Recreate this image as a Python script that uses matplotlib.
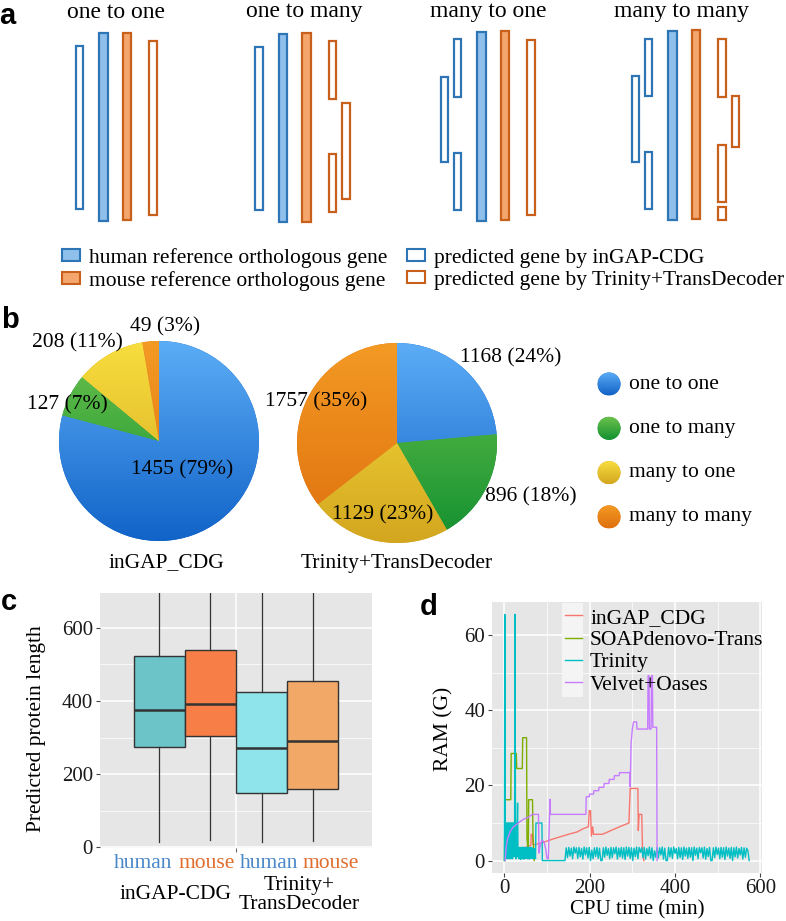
import matplotlib.pyplot as plt
import numpy as np
from matplotlib.colors import LinearSegmentedColormap
from matplotlib.patches import Circle, Patch, Rectangle

plt.rcParams["font.family"] = ["Liberation Serif", "DejaVu Serif"]

# ---------------- panel a: schematic gene models (segment top, bottom) ----
A_TITLES = ["one to one", "one to many", "many to one", "many to many"]
A_SEGMENTS = [
    {"pred_h": [(46, 209)], "ref_h": [(33, 221)], "ref_m": [(33, 220)],
     "pred_m": [(41, 215)]},
    {"pred_h": [(47, 210)], "ref_h": [(34, 222)], "ref_m": [(33, 222)],
     "pred_m": [(41, 99), (154, 212)], "pred_m2": [(103, 199)]},
    {"pred_h2": [(77, 162)], "pred_h": [(39, 97), (153, 210)],
     "ref_h": [(32, 221)], "ref_m": [(31, 220)], "pred_m": [(40, 215)]},
    {"pred_h2": [(76, 162)], "pred_h": [(39, 96), (152, 209)],
     "ref_h": [(31, 220)], "ref_m": [(30, 219)],
     "pred_m": [(39, 97), (145, 202), (207, 220)], "pred_m2": [(96, 147)]},
]
A_LEGEND = ["human reference orthologous gene",
            "mouse reference orthologous gene",
            "predicted gene by inGAP-CDG",
            "predicted gene by Trinity+TransDecoder"]

# ---------------- panel b: pies ----
B_CATEGORIES = ["one to one", "one to many", "many to one", "many to many"]
B_INGAP = [1455, 127, 208, 49]
B_INGAP_PCT = [79, 7, 11, 3]
B_TRINITY = [1168, 896, 1129, 1757]
B_TRINITY_PCT = [24, 18, 23, 35]
B_TITLES = ["inGAP_CDG", "Trinity+TransDecoder"]

# ---------------- panel c: boxplots ----
C_LABELS = ["human", "mouse", "human", "mouse"]
C_GROUPS = ["inGAP-CDG", "Trinity+\nTransDecoder"]
C_WHISLO = [14, 19, 14, 16]
C_Q1 = [275, 303, 147, 158]
C_MED = [376, 392, 272, 290]
C_Q3 = [523, 540, 425, 455]
C_WHISHI = [895, 895, 842, 900]

# ---------------- panel d: RAM over CPU time ----
D_INGAP_T = [28, 40, 55, 62, 63, 66, 67, 80, 95, 110, 130, 150, 170, 185,
             197, 199, 202, 204, 207, 209, 230, 250, 270, 292, 295, 313, 314,
             316, 322, 324, 327]
D_INGAP_RAM = [3.0, 3.0, 3.8, 4.0, 7.0, 7.0, 4.2, 4.5, 5.0, 5.6, 6.3, 7.0,
               7.6, 8.5, 9.0, 13.3, 13.3, 6.5, 9.0, 7.0, 7.0, 8.0, 9.0, 10.0,
               19.2, 19.2, 8.0, 12.3, 12.3, 2.5, 0.0]

D_SOAP_T = [0, 1, 2, 15, 16, 28, 29, 42, 43, 52, 53, 56, 57, 66, 67, 70]
D_SOAP_RAM = [0, 10, 16.2, 16.2, 28.5, 28.5, 24.5, 24.5, 32.7, 32.7, 6, 2,
              16.2, 16.2, 7, 0]

# Trinity sampled every minute from 0 to 89 min
D_TRINITY_EARLY = [
    0, 65.5, 10, 0.5, 10, 1, 10, 0.5, 10, 2, 10, 0.5, 10, 1, 10, 0.5, 10, 1.5,
    10, 0.5, 10, 2, 10, 1, 10, 65.5, 10, 0.5, 10, 1, 10, 15.3, 1, 3, 0.5, 3.5,
    1, 3.2, 0.3, 3.5, 1.2, 3.4, 0.5, 3.6, 1, 3.3, 0.4, 3.5, 1.5, 3.4, 0.6, 3.5,
    1, 3.2, 0.5, 3.6, 1.2, 3.4, 0.4, 3.5, 1, 3.3, 0.6, 3.5, 1, 3.4, 0.5, 3, 1,
    3.2, 0.5, 3, 1, 0.5, 10, 10, 10, 10, 10, 10, 10, 10, 10, 10, 10, 10, 10,
    10, 10, 0]
# Trinity sampled every 3 minutes from 142 to 574 min
D_TRINITY_LATE = [
    0,
    3.4, 0.8, 3.5, 1.2, 3.3, 0.5, 3.6, 2.0, 3.4, 0.6, 3.5, 1.0, 3.2, 0.4, 3.6,
    1.5, 3.4, 0.7, 3.5, 0.0, 2.8, 0.5, 3.4, 1.1,
    3.5, 0.6, 3.3, 0.0, 0.0, 3.4, 0.9, 3.6, 1.4, 3.2, 0.5, 3.5, 0.8, 3.4, 1.8,
    3.6, 0.4, 3.3, 1.0, 3.5, 0.7, 3.4, 0.3, 3.6,
    1.2, 3.5, 0.6, 3.4, 0.0, 3.3, 1.1, 3.6, 0.5, 3.5, 2.2, 3.4, 0.8, 3.5, 0.4,
    3.2, 1.3, 3.6, 0.6, 3.4, 0.0, 2.6, 0.9, 3.5,
    0.7, 3.4, 1.5, 3.6, 0.4, 3.3, 0.0, 0.0, 3.5, 1.0, 3.4, 0.6, 3.6, 1.9, 3.2,
    0.5, 3.5, 0.8, 3.4, 0.3, 3.6, 1.2, 3.3, 0.6,
    3.5, 0.9, 3.4, 0.0, 3.6, 1.4, 3.3, 0.5, 3.5, 2.1, 3.4, 0.7, 3.6, 0.4, 3.2,
    1.1, 3.5, 0.0, 0.0, 3.4, 0.8, 3.6, 1.6, 3.3,
    0.5, 3.5, 0.9, 3.4, 0.3, 3.6, 1.2, 3.3, 0.6, 3.5, 0.0, 3.4, 1.0, 3.6, 0.7,
    3.2, 1.5, 3.5, 0.4, 3.4, 0.9, 3.3, 2.6, 0.0]

D_VELVET_T = [2, 4, 8, 14, 20, 28, 36, 45, 55, 66, 80, 81, 84, 88, 93, 97,
              100, 103, 107, 108, 191, 192, 199, 200, 209, 210, 221, 222, 233,
              234, 245, 246, 257, 258, 269, 270, 294, 295, 297, 300, 303, 310,
              311, 336, 337, 339, 340, 344, 345, 347, 348, 357, 358]
D_VELVET_RAM = [0, 3.5, 6, 7.8, 8.8, 9.6, 10.3, 11, 11.5, 12.3, 12.3, 2, 4,
                5.5, 5, 3, 0.5, 0.5, 16.3, 12.3, 12.3, 17, 17, 17.7, 17.7,
                18.6, 18.6, 19.5, 19.5, 20.5, 20.5, 21.6, 21.6, 22.6, 22.6,
                23.4, 23.4, 19.6, 31, 35, 36.9, 36.9, 35, 35, 49.2, 49.2, 35,
                35, 49.2, 49.2, 35.5, 35.5, 0]
D_NAMES = ["inGAP_CDG", "SOAPdenovo-Trans", "Trinity", "Velvet+Oases"]

# ---------------- styles ----
W, H = 786, 921
BLUE_EDGE, BLUE_FILL = "#2e75b6", "#8fc0ec"
ORANGE_EDGE, ORANGE_FILL = "#c8601c", "#f4a66c"
PIE_SHADES = [("#5cadf6", "#1163c8"), ("#6cc24c", "#129030"),
              ("#f8de3e", "#d3a61f"), ("#f39a24", "#df700e")]
BOX_FILLS = ["#6cc3c8", "#f77f47", "#8fe3ea", "#f2a867"]
TICK_COLORS = ["#4a88c8", "#e06c2c", "#4a88c8", "#e06c2c"]
GG_COLORS = ["#f8766d", "#7cae00", "#00bfc4", "#c77cff"]
TXT = 15.5

fig = plt.figure(figsize=(W / 100, H / 100), dpi=100)


def px_axes(x0, y0, x1, y1, **kw):
    return fig.add_axes([x0 / W, 1 - y1 / H, (x1 - x0) / W, (y1 - y0) / H], **kw)


def gradient_fill(ax, patch, light, dark, extent):
    cmap = LinearSegmentedColormap.from_list("shade", [light, dark])
    grad = np.linspace(0, 1, 256).reshape(-1, 1)
    im = ax.imshow(grad, cmap=cmap, extent=extent, origin="upper",
                   aspect="auto", zorder=patch.get_zorder() + 0.1,
                   interpolation="bilinear")
    im.set_clip_path(patch)


# overlay in pixel coordinates for schematic, legends and letters
ov = fig.add_axes([0, 0, 1, 1])
ov.set_xlim(0, W)
ov.set_ylim(H, 0)
ov.axis("off")

# ---------------- panel a ----
GROUP_X = [103.5, 283, 481.5, 672.5]
TITLE_X = [116, 304, 488, 681]
LANES = {"pred_h2": (-37, "open", "h"), "pred_h": (-24, "open", "h"),
         "ref_h": (0, "fill", "h"), "ref_m": (23.5, "fill", "m"),
         "pred_m": (49.5, "open", "m"), "pred_m2": (63, "open", "m")}
for gx, tx, title, segs in zip(GROUP_X, TITLE_X, A_TITLES, A_SEGMENTS):
    ov.text(tx, 12, title, ha="center", va="center", fontsize=17)
    for key, spans in segs.items():
        off, kind, sp = LANES[key]
        edge = BLUE_EDGE if sp == "h" else ORANGE_EDGE
        face = (BLUE_FILL if sp == "h" else ORANGE_FILL) if kind == "fill" else "white"
        w = 8.5 if kind == "fill" else 7.5
        for top, bot in spans:
            ov.add_patch(Rectangle((gx + off - w / 2, top), w, bot - top,
                                   facecolor=face, edgecolor=edge, lw=1.6))

handles = [Patch(facecolor=BLUE_FILL, edgecolor=BLUE_EDGE, lw=1.5),
           Patch(facecolor=ORANGE_FILL, edgecolor=ORANGE_EDGE, lw=1.5),
           Patch(facecolor="white", edgecolor=BLUE_EDGE, lw=1.5),
           Patch(facecolor="white", edgecolor=ORANGE_EDGE, lw=1.5)]
ov.legend(handles, A_LEGEND, ncol=2, loc="upper left",
          bbox_to_anchor=(62 / W, 1 - 248 / H), bbox_transform=fig.transFigure,
          frameon=False, fontsize=TXT, handlelength=0.85, handleheight=0.45,
          handletextpad=0.4, columnspacing=0.9, labelspacing=0.13,
          borderpad=0, borderaxespad=0)

# ---------------- panel b ----
LEFT_LABEL_XY = [(0.23, -0.29), (-0.92, 0.36), (-0.82, 0.98), (0.06, 1.14)]
RIGHT_LABEL_XY = [(1.14, 0.85), (1.34, -0.54), (-0.14, -0.72), (-0.81, 0.41)]
pie_boxes = [(59, 341, 259, 541), (297, 343, 497, 543)]
for box, vals, pcts, label_xy in zip(pie_boxes, [B_INGAP, B_TRINITY],
                                     [B_INGAP_PCT, B_TRINITY_PCT],
                                     [LEFT_LABEL_XY, RIGHT_LABEL_XY]):
    ax = px_axes(*box)
    ax.patch.set_visible(False)
    wedges, _ = ax.pie(vals, startangle=90, counterclock=False,
                       colors=[s[1] for s in PIE_SHADES],
                       wedgeprops=dict(linewidth=0))
    for wdg, (light, dark) in zip(wedges, PIE_SHADES):
        gradient_fill(ax, wdg, light, dark, (-1, 1, -1, 1))
    for v, p, (lx, ly) in zip(vals, pcts, label_xy):
        ax.text(lx, ly, f"{v} ({p}%)", ha="center", va="center",
                fontsize=TXT, zorder=5, clip_on=False)
    ax.set_xlim(-1, 1)
    ax.set_ylim(-1, 1)
    ax.set_aspect("equal")
    ax.axis("off")

ov.text(166, 563, B_TITLES[0], ha="center", va="center", fontsize=TXT)
ov.text(397, 563, B_TITLES[1], ha="center", va="center", fontsize=TXT)

for i, (cat, (light, dark)) in enumerate(zip(B_CATEGORIES, PIE_SHADES)):
    cy = 384 + i * 44.3
    c = Circle((609, cy), 11.5, facecolor=dark, edgecolor="none")
    ov.add_patch(c)
    gradient_fill(ov, c, light, dark, (597.5, 620.5, cy + 11.5, cy - 11.5))
    ov.text(629, cy, cat, ha="left", va="center", fontsize=TXT)
ov.set_xlim(0, W)
ov.set_ylim(H, 0)


def style_gg(ax):
    ax.set_facecolor("#e6e6e6")
    for s in ax.spines.values():
        s.set_visible(False)
    ax.grid(which="major", color="white", linewidth=1.1)
    ax.grid(which="minor", color="white", linewidth=0.5)
    ax.set_axisbelow(True)
    ax.tick_params(which="major", length=3, width=0.8, color="#444444",
                   labelsize=15, pad=2, labelcolor="#1a1a1a")
    ax.tick_params(which="minor", length=0)


# ---------------- panel c ----
axc = px_axes(100, 593, 372, 848)
style_gg(axc)
pos = [1, 2, 3, 4]
LABEL_POS = [0.69, 1.93, 3.14, 4.35]
stats = [dict(whislo=lo, q1=a, med=m, q3=b, whishi=hi)
         for lo, a, m, b, hi in zip(C_WHISLO, C_Q1, C_MED, C_Q3, C_WHISHI)]
bp = axc.bxp(stats, positions=pos, widths=1.0, patch_artist=True,
             showfliers=False, showcaps=False,
             boxprops=dict(edgecolor="#333333", linewidth=1.0),
             medianprops=dict(color="#333333", linewidth=1.8),
             whiskerprops=dict(color="#333333", linewidth=0.9))
for patch, col in zip(bp["boxes"], BOX_FILLS):
    patch.set_facecolor(col)
axc.set_xlim(-0.16, 5.16)
axc.set_ylim(-2, 695)
axc.set_yticks([0, 200, 400, 600])
axc.set_yticks([100, 300, 500], minor=True)
axc.set_xticks(LABEL_POS, C_LABELS)
axc.set_xticks([2.5], minor=True)
axc.xaxis.grid(False, which="major")
axc.xaxis.grid(True, which="minor", color="white", linewidth=1.1)
axc.tick_params(axis="x", which="major", length=0, labelsize=15.5, pad=4)
axc.tick_params(axis="x", which="minor", length=3, color="#444444")
for lbl, col in zip(axc.get_xticklabels(), TICK_COLORS):
    lbl.set_color(col)
axc.set_ylabel("Predicted protein length", fontsize=TXT)
axc.yaxis.set_label_coords(-0.2, 0.47)
axc.text(1.32, -0.184, C_GROUPS[0], transform=axc.get_xaxis_transform(),
         ha="center", va="center", fontsize=TXT)
axc.text(3.73, -0.184, C_GROUPS[1], transform=axc.get_xaxis_transform(),
         ha="center", va="center", fontsize=TXT, linespacing=0.95)

# ---------------- panel d ----
axd = px_axes(492, 602, 762, 873)
style_gg(axd)
early_t = np.arange(len(D_TRINITY_EARLY))
late_t = 142 + 3 * np.arange(len(D_TRINITY_LATE))
tri_t = np.concatenate([early_t, late_t])
tri_ram = np.concatenate([D_TRINITY_EARLY, D_TRINITY_LATE])
series = [(D_INGAP_T, D_INGAP_RAM), (D_SOAP_T, D_SOAP_RAM),
          (tri_t, tri_ram), (D_VELVET_T, D_VELVET_RAM)]
lines = []
for (t, r), col, name in zip(series, GG_COLORS, D_NAMES):
    ln, = axd.plot(t, r, color=col, lw=1.0, label=name)
    lines.append(ln)
axd.set_xlim(-29, 604)
axd.set_ylim(-3.3, 68.8)
axd.set_xticks([0, 200, 400, 600])
axd.set_xticks([100, 300, 500], minor=True)
axd.set_yticks([0, 20, 40, 60])
axd.set_yticks([10, 30, 50], minor=True)
axd.tick_params(axis="x", which="major", pad=1.5)
axd.set_xlabel("CPU time (min)", fontsize=15)
axd.xaxis.set_label_coords(0.537, -0.1)
axd.set_ylabel("RAM (G)", fontsize=TXT)
axd.yaxis.set_label_coords(-0.144, 0.53)
axd.add_patch(Rectangle((0.259, 0.649), 0.078, 0.347, transform=axd.transAxes,
                        facecolor="#f4f4f4", edgecolor="none", zorder=3))
axd.legend(lines, D_NAMES, loc="upper left", bbox_to_anchor=(0.27, 0.978),
           frameon=False, fontsize=15.5, handlelength=0.8,
           handletextpad=0.37, labelspacing=0.1, borderpad=0,
           borderaxespad=0)

# panel letters
for letter, (x, y) in zip("abcd", [(7, 16), (10, 320), (9, 602), (429, 607)]):
    ov.text(x, y, letter, ha="center", va="center", fontsize=21,
            fontweight="bold", family="Liberation Sans")

fig.savefig("out.png", dpi=100)
